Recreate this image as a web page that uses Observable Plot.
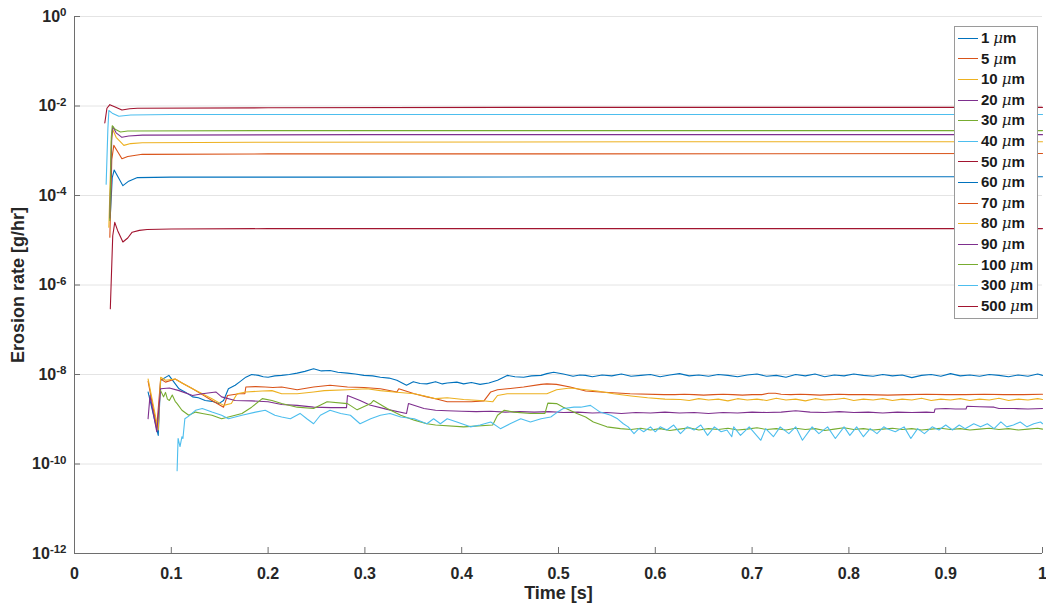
<!DOCTYPE html>
<html>
<head>
<meta charset="utf-8">
<script src="https://cdn.jsdelivr.net/npm/d3@7"></script>
<script src="https://cdn.jsdelivr.net/npm/@observablehq/plot@0.6"></script>
<style>
  html, body { margin: 0; padding: 0; background: #fff; }
  #wrap { position: relative; width: 1046px; height: 605px; }
  #legend {
    position: absolute; left: 954px; top: 26px; width: 82px;
    border: 1px solid #9a9a9a; background: #fff; padding: 1px 0 2px 0;
    font-family: "Liberation Sans", Arial, sans-serif; font-weight: bold; font-size: 15px; color: #1a1a1a;
  }
  #legend .row { height: 20.6px; line-height: 20.6px; white-space: nowrap; display: flex; align-items: center; }
  #legend .sw { display: inline-block; width: 20px; height: 0; border-top: 1px solid; margin: 0 3px 0 3px; }
  #legend i { font-weight: normal; font-family: "DejaVu Serif", serif; font-style: italic; margin-left: 4px; }
</style>
</head>
<body>
<div id="wrap"></div>
<script>
// ---------- data (time in s, log10 of erosion rate in g/hr) ----------
const seriesNames = ["1 μm","5 μm","10 μm","20 μm","30 μm","40 μm","50 μm","60 μm","70 μm","80 μm","90 μm","100 μm","300 μm","500 μm"];
const seriesColors = ["#0072BD","#D95319","#EDB120","#7E2F8E","#77AC30","#4DBEEE","#A2142F","#0072BD","#D95319","#EDB120","#7E2F8E","#77AC30","#4DBEEE","#A2142F"];

const xTicks = [0,0.1,0.2,0.3,0.4,0.5,0.6,0.7,0.8,0.9,1];
const xTickLabels = ["0","0.1","0.2","0.3","0.4","0.5","0.6","0.7","0.8","0.9","1"];
const yTicks = [1e-12,1e-10,1e-8,1e-6,1e-4,1e-2,1];
const yTickExponents = ["-12","-10","-8","-6","-4","-2","0"];

const um1 = [[0.076,-8.39],[0.0865,-9.36],[0.089,-8.13],[0.0975,-8.02],[0.108,-8.32],[0.115,-8.40],[0.122,-8.50],[0.128,-8.52],[0.135,-8.58],[0.142,-8.60],[0.149,-8.65],[0.154,-8.58],[0.159,-8.32],[0.166,-8.24],[0.171,-8.16],[0.177,-8.06],[0.183,-8.00],[0.19,-8.02],[0.195,-8.05],[0.2,-8.06],[0.207,-8.03],[0.214,-8.02],[0.222,-8.00],[0.23,-7.97],[0.238,-7.93],[0.247,-7.87],[0.255,-7.92],[0.264,-7.91],[0.272,-7.95],[0.282,-7.97],[0.29,-7.99],[0.299,-8.02],[0.308,-8.03],[0.316,-8.06],[0.325,-8.08],[0.333,-8.13],[0.343,-8.24],[0.35,-8.16],[0.357,-8.20],[0.364,-8.21],[0.373,-8.16],[0.38,-8.21],[0.385,-8.19],[0.395,-8.17],[0.402,-8.21],[0.41,-8.18],[0.419,-8.22],[0.428,-8.19],[0.437,-8.13],[0.447,-8.02],[0.455,-8.05],[0.464,-8.06],[0.472,-8.03],[0.482,-8.02],[0.488,-7.98],[0.495,-7.95],[0.505,-7.99],[0.515,-8.04],[0.522,-8.01],[0.528,-8.02],
  [0.535,-8.05],[0.545,-8.01],[0.555,-8.03],[0.565,-7.99],[0.575,-8.04],[0.585,-8.02],[0.595,-8.00],[0.605,-8.05],[0.615,-8.01],[0.625,-7.98],[0.635,-8.03],[0.645,-8.01],[0.655,-8.04],[0.665,-8.00],[0.675,-8.02],[0.685,-8.05],[0.695,-8.01],[0.705,-7.99],[0.715,-8.04],[0.725,-8.02],[0.735,-8.06],[0.745,-8.00],[0.755,-8.03],[0.765,-7.99],[0.775,-8.05],[0.785,-8.01],[0.795,-8.03],[0.805,-7.99],[0.815,-8.02],[0.825,-8.04],[0.835,-8.00],[0.845,-8.03],[0.855,-8.01],[0.865,-8.07],[0.875,-8.02],[0.885,-8.00],[0.895,-8.04],[0.905,-7.98],[0.915,-8.03],[0.925,-8.01],[0.935,-8.04],[0.945,-8.00],[0.955,-8.02],[0.965,-8.05],[0.975,-8.01],[0.985,-8.04],[0.995,-7.99],[1.0,-8.02]];

const um5 = [[0.076,-8.15],[0.085,-9.17],[0.089,-8.10],[0.094,-8.17],[0.104,-8.10],[0.112,-8.20],[0.122,-8.32],[0.132,-8.45],[0.142,-8.58],[0.154,-8.73],[0.158,-8.47],[0.17,-8.43],[0.176,-8.43],[0.177,-8.28],[0.187,-8.27],[0.197,-8.28],[0.205,-8.29],[0.214,-8.28],[0.23,-8.34],[0.247,-8.28],[0.264,-8.24],[0.282,-8.28],[0.299,-8.29],[0.316,-8.32],[0.333,-8.39],[0.335,-8.32],[0.351,-8.43],[0.364,-8.50],[0.373,-8.54],[0.385,-8.61],[0.41,-8.61],[0.423,-8.59],[0.43,-8.39],[0.437,-8.34],[0.447,-8.32],[0.464,-8.28],[0.482,-8.22],[0.488,-8.21],[0.498,-8.22],[0.512,-8.28],[0.528,-8.37],[0.543,-8.39],[0.574,-8.43],[0.609,-8.45],
  [0.62,-8.45],[0.63,-8.44],[0.64,-8.45],[0.65,-8.46],[0.66,-8.45],[0.67,-8.44],[0.68,-8.45],[0.69,-8.46],[0.70,-8.45],[0.71,-8.45],[0.717,-8.42],[0.724,-8.42],[0.73,-8.44],[0.74,-8.45],[0.75,-8.44],[0.76,-8.45],[0.77,-8.46],[0.78,-8.45],[0.79,-8.44],[0.80,-8.45],[0.82,-8.45],[0.84,-8.46],[0.86,-8.45],[0.88,-8.44],[0.90,-8.45],[0.92,-8.45],[0.94,-8.44],[0.96,-8.45],[0.98,-8.45],[1.0,-8.44]];

const um10 = [[0.076,-8.10],[0.0865,-9.24],[0.089,-8.06],[0.094,-8.13],[0.104,-8.10],[0.112,-8.20],[0.122,-8.32],[0.132,-8.43],[0.142,-8.54],[0.154,-8.69],[0.162,-8.65],[0.168,-8.43],[0.177,-8.39],[0.194,-8.37],[0.204,-8.36],[0.214,-8.43],[0.23,-8.43],[0.247,-8.39],[0.258,-8.36],[0.282,-8.34],[0.302,-8.32],[0.316,-8.36],[0.33,-8.39],[0.351,-8.43],[0.364,-8.49],[0.373,-8.54],[0.385,-8.52],[0.402,-8.56],[0.419,-8.58],[0.432,-8.61],[0.437,-8.47],[0.447,-8.43],[0.471,-8.43],[0.488,-8.43],[0.498,-8.34],[0.512,-8.30],[0.528,-8.34],[0.54,-8.37],[0.557,-8.43],[0.575,-8.48],[0.592,-8.52],[0.61,-8.55],[0.626,-8.56],
  [0.635,-8.58],[0.645,-8.54],[0.655,-8.57],[0.665,-8.55],[0.675,-8.59],[0.685,-8.54],[0.695,-8.57],[0.705,-8.55],[0.715,-8.58],[0.725,-8.53],[0.735,-8.57],[0.745,-8.55],[0.755,-8.59],[0.765,-8.54],[0.775,-8.57],[0.785,-8.56],[0.795,-8.53],[0.805,-8.58],[0.815,-8.55],[0.825,-8.57],[0.835,-8.54],[0.845,-8.58],[0.855,-8.55],[0.865,-8.57],[0.875,-8.53],[0.885,-8.58],[0.895,-8.55],[0.905,-8.57],[0.915,-8.54],[0.925,-8.58],[0.935,-8.55],[0.945,-8.57],[0.955,-8.53],[0.965,-8.58],[0.975,-8.55],[0.985,-8.57],[0.995,-8.54],[1.0,-8.56]];

const um20 = [[0.076,-8.99],[0.078,-8.47],[0.085,-9.28],[0.089,-8.32],[0.098,-8.30],[0.108,-8.36],[0.122,-8.47],[0.132,-8.43],[0.146,-8.39],[0.152,-8.50],[0.166,-8.58],[0.183,-8.59],[0.2,-8.61],[0.214,-8.67],[0.23,-8.69],[0.247,-8.73],[0.265,-8.74],[0.281,-8.74],[0.282,-8.47],[0.295,-8.58],[0.305,-8.68],[0.323,-8.78],[0.343,-8.87],[0.345,-8.65],[0.361,-8.76],[0.373,-8.80],
  [0.385,-8.81],[0.40,-8.82],[0.415,-8.83],[0.43,-8.82],[0.445,-8.84],[0.46,-8.83],[0.475,-8.84],[0.49,-8.83],[0.505,-8.85],[0.52,-8.84],[0.535,-8.86],[0.55,-8.85],[0.565,-8.87],[0.58,-8.85],[0.595,-8.86],[0.61,-8.84],[0.625,-8.86],[0.64,-8.85],[0.655,-8.87],[0.67,-8.85],[0.685,-8.86],[0.70,-8.84],[0.715,-8.85],[0.73,-8.84],[0.745,-8.81],[0.76,-8.84],[0.775,-8.85],[0.79,-8.83],[0.805,-8.85],[0.82,-8.84],[0.835,-8.86],[0.85,-8.84],[0.865,-8.85],[0.88,-8.84],[0.888,-8.85],[0.889,-8.77],[0.90,-8.76],[0.91,-8.77],[0.921,-8.77],[0.922,-8.71],[0.935,-8.72],[0.95,-8.73],[0.955,-8.76],[0.97,-8.76],[0.985,-8.77],[1.0,-8.76]];

const um30 = [[0.089,-8.36],[0.092,-8.50],[0.094,-8.40],[0.096,-8.55],[0.098,-8.58],[0.101,-8.46],[0.104,-8.60],[0.106,-8.65],[0.111,-8.80],[0.118,-8.91],[0.125,-8.84],[0.132,-8.87],[0.142,-8.91],[0.152,-8.99],[0.159,-8.95],[0.173,-8.87],[0.183,-8.73],[0.194,-8.54],[0.204,-8.58],[0.214,-8.65],[0.23,-8.73],[0.247,-8.76],[0.261,-8.61],[0.282,-8.65],[0.292,-8.79],[0.306,-8.65],[0.309,-8.58],[0.323,-8.76],[0.337,-8.91],[0.351,-9.02],[0.364,-9.10],[0.373,-9.13],[0.402,-9.17],[0.432,-9.13],[0.437,-8.91],[0.444,-8.80],[0.454,-8.84],[0.471,-8.87],[0.486,-8.87],[0.489,-8.64],[0.498,-8.65],[0.505,-8.73],[0.519,-8.87],[0.528,-8.95],[0.536,-9.06],[0.55,-9.17],[0.564,-9.21],
  [0.575,-9.23],[0.585,-9.20],[0.595,-9.24],[0.605,-9.21],[0.615,-9.25],[0.625,-9.22],[0.635,-9.19],[0.645,-9.24],[0.655,-9.21],[0.665,-9.23],[0.675,-9.20],[0.685,-9.24],[0.695,-9.22],[0.705,-9.19],[0.715,-9.23],[0.725,-9.21],[0.735,-9.24],[0.745,-9.20],[0.755,-9.23],[0.765,-9.21],[0.775,-9.25],[0.785,-9.22],[0.795,-9.19],[0.805,-9.23],[0.815,-9.21],[0.825,-9.24],[0.835,-9.22],[0.845,-9.20],[0.855,-9.23],[0.865,-9.21],[0.875,-9.24],[0.885,-9.22],[0.895,-9.20],[0.905,-9.23],[0.915,-9.21],[0.925,-9.24],[0.935,-9.22],[0.945,-9.20],[0.955,-9.23],[0.965,-9.21],[0.975,-9.24],[0.985,-9.22],[0.995,-9.20],[1.0,-9.22]];

const um40 = [[0.106,-10.15],[0.107,-9.43],[0.109,-9.61],[0.111,-9.39],[0.112,-9.43],[0.114,-8.99],[0.118,-8.93],[0.125,-8.80],[0.132,-8.76],[0.142,-8.84],[0.152,-8.91],[0.159,-8.99],[0.173,-8.91],[0.187,-8.84],[0.197,-8.80],[0.207,-8.91],[0.214,-8.95],[0.223,-8.99],[0.233,-8.87],[0.24,-8.99],[0.247,-9.10],[0.254,-8.91],[0.264,-8.80],[0.275,-8.87],[0.285,-8.91],[0.295,-9.10],[0.306,-8.99],[0.316,-8.91],[0.326,-8.87],[0.337,-8.95],[0.351,-8.99],[0.364,-9.10],[0.371,-8.99],[0.378,-9.10],[0.385,-8.99],[0.395,-9.06],[0.409,-9.17],[0.419,-9.13],[0.43,-9.06],[0.44,-9.21],[0.45,-9.10],[0.461,-8.99],[0.471,-9.06],[0.482,-8.99],[0.492,-8.95],[0.499,-8.84],[0.505,-8.76],[0.516,-8.73],[0.523,-8.73],[0.533,-8.69],[0.543,-8.84],[0.554,-8.91],[0.561,-8.99],[0.567,-9.10],[0.572,-9.17],
  [0.578,-9.32],[0.583,-9.21],[0.588,-9.28],[0.595,-9.17],[0.6,-9.28],[0.605,-9.17],[0.612,-9.24],[0.619,-9.13],[0.626,-9.32],[0.633,-9.17],[0.64,-9.24],[0.647,-9.13],[0.654,-9.36],[0.661,-9.17],[0.668,-9.28],[0.674,-9.24],[0.679,-9.39],[0.681,-9.17],[0.688,-9.36],[0.697,-9.17],[0.709,-9.47],[0.714,-9.21],[0.722,-9.39],[0.729,-9.17],[0.738,-9.32],[0.745,-9.17],[0.752,-9.47],[0.762,-9.17],[0.769,-9.32],[0.778,-9.17],[0.786,-9.43],[0.795,-9.17],[0.801,-9.36],[0.808,-9.17],[0.815,-9.39],[0.822,-9.21],[0.829,-9.32],[0.836,-9.17],[0.8395,-9.21],[0.848,-9.28],[0.857,-9.17],[0.864,-9.43],[0.871,-9.21],[0.878,-9.32],[0.886,-9.17],[0.893,-9.24],[0.900,-9.13],[0.907,-9.24],[0.914,-9.13],[0.920,-9.21],[0.929,-9.10],[0.936,-9.17],[0.943,-9.10],[0.950,-9.21],[0.957,-9.06],[0.963,-9.17],[0.970,-9.13],[0.977,-9.06],[0.984,-9.17],[0.991,-9.10],[0.998,-9.06],[1.0,-9.10]];

const um50 = [[0.037,-6.53],[0.0395,-4.9],[0.0416,-4.60],[0.0445,-4.78],[0.050,-5.04],[0.055,-4.95],[0.0596,-4.82],[0.067,-4.78],[0.075,-4.76],[0.1,-4.75],[0.2,-4.74],[0.4,-4.74],[0.6,-4.74],[0.8,-4.74],[1.0,-4.74]];
const um60 = [[0.037,-4.45],[0.039,-3.6],[0.041,-3.43],[0.044,-3.55],[0.050,-3.78],[0.056,-3.68],[0.065,-3.60],[0.1,-3.59],[0.3,-3.59],[0.6,-3.58],[1.0,-3.58]];
const um70 = [[0.0365,-4.93],[0.0385,-3.2],[0.0406,-2.88],[0.044,-3.0],[0.049,-3.18],[0.055,-3.13],[0.060,-3.11],[0.07,-3.08],[0.2,-3.07],[0.5,-3.07],[1.0,-3.06]];
const um80 = [[0.0355,-4.71],[0.038,-2.8],[0.0396,-2.53],[0.043,-2.7],[0.051,-2.88],[0.058,-2.84],[0.07,-2.82],[0.2,-2.81],[0.6,-2.80],[1.0,-2.80]];
const um90 = [[0.0365,-4.5],[0.0385,-2.7],[0.0395,-2.46],[0.043,-2.6],[0.049,-2.70],[0.056,-2.67],[0.07,-2.65],[0.3,-2.64],[1.0,-2.64]];
const um100 = [[0.0365,-4.56],[0.038,-2.7],[0.039,-2.44],[0.042,-2.52],[0.0475,-2.58],[0.055,-2.56],[0.2,-2.55],[1.0,-2.55]];
const um300 = [[0.0327,-3.75],[0.0345,-2.5],[0.0355,-2.10],[0.039,-2.16],[0.0458,-2.23],[0.058,-2.20],[0.1,-2.19],[1.0,-2.19]];
const um500 = [[0.0313,-2.38],[0.0335,-2.05],[0.0365,-1.97],[0.042,-2.02],[0.049,-2.09],[0.057,-2.06],[0.065,-2.05],[0.2,-2.04],[0.5,-2.03],[1.0,-2.03]];

const seriesData = [um1, um5, um10, um20, um30, um40, um50, um60, um70, um80, um90, um100, um300, um500];

// ---------- build table ----------
const rows = [];
seriesData.forEach((arr, i) => arr.forEach(([t, e]) => rows.push({series: seriesNames[i], t, v: Math.pow(10, e)})));

const W = 1046, H = 605, mL = 74, mR = 4, mT = 16, mB = 52;
const frameW = W - mL - mR, frameH = H - mT - mB;
const tick = 6;

const chart = Plot.plot({
  width: W, height: H,
  marginLeft: mL, marginRight: mR, marginTop: mT, marginBottom: mB,
  style: {fontFamily: "'Liberation Sans', Arial, sans-serif", fontSize: "16px", fontWeight: "bold", color: "#262626", background: "#fff", overflow: "visible"},
  x: {domain: [0, 1], ticks: xTicks, tickSize: 0, tickPadding: 14, tickFormat: d => xTickLabels[xTicks.indexOf(d)], label: null},
  y: {type: "log", domain: [1e-12, 1], ticks: yTicks, tickSize: 0, tickPadding: 8, tickFormat: d => "10^" + yTickExponents[yTicks.indexOf(d)], label: null},
  color: {domain: seriesNames, range: seriesColors},
  marks: [
    Plot.ruleY(yTicks, {stroke: "#e4e4e4", strokeWidth: 1}),
    Plot.line(rows, {x: "t", y: "v", z: "series", stroke: "series", strokeWidth: 1.1}),
    Plot.ruleX([0], {stroke: "#6e6e6e", strokeWidth: 1}),
    Plot.ruleY([1e-12], {stroke: "#6e6e6e", strokeWidth: 1}),
    Plot.tickX(xTicks, {x: d => d, insetTop: frameH - tick, stroke: "#6e6e6e"}),
    Plot.tickY(yTicks, {y: d => d, insetRight: frameW - tick, stroke: "#6e6e6e"}),
    Plot.text(["Time [s]"], {text: d => d, frameAnchor: "bottom", lineAnchor: "middle", textAnchor: "middle", dy: 40, fontSize: 18, fontWeight: "bold", fill: "#262626"}),
    Plot.text(["Erosion rate [g/hr]"], {text: d => d, frameAnchor: "left", lineAnchor: "middle", textAnchor: "middle", rotate: -90, dx: -56, fontSize: 18, fontWeight: "bold", fill: "#262626"})
  ]
});

// superscript exponents on log tick labels
chart.querySelectorAll("text").forEach(t => {
  const s = t.textContent;
  if (s.startsWith("10^")) {
    const exp = s.slice(3);
    t.textContent = "";
    const base = document.createElementNS("http://www.w3.org/2000/svg", "tspan");
    base.textContent = "10";
    const sup = document.createElementNS("http://www.w3.org/2000/svg", "tspan");
    sup.textContent = exp;
    sup.setAttribute("dy", "-0.45em");
    sup.setAttribute("font-size", "11.5px");
    t.appendChild(base);
    t.appendChild(sup);
  }
});

const wrap = document.getElementById("wrap");
wrap.appendChild(chart);

// legend
const legend = document.createElement("div");
legend.id = "legend";
seriesNames.forEach((name, i) => {
  const row = document.createElement("div");
  row.className = "row";
  const sw = document.createElement("span");
  sw.className = "sw";
  sw.style.borderTopColor = seriesColors[i];
  row.appendChild(sw);
  const [num, unit] = name.split(" ");
  row.appendChild(document.createTextNode(num));
  const mu = document.createElement("i");
  mu.textContent = unit.slice(0, 1);
  row.appendChild(mu);
  row.appendChild(document.createTextNode(unit.slice(1)));
  legend.appendChild(row);
});
wrap.appendChild(legend);
</script>
</body>
</html>
